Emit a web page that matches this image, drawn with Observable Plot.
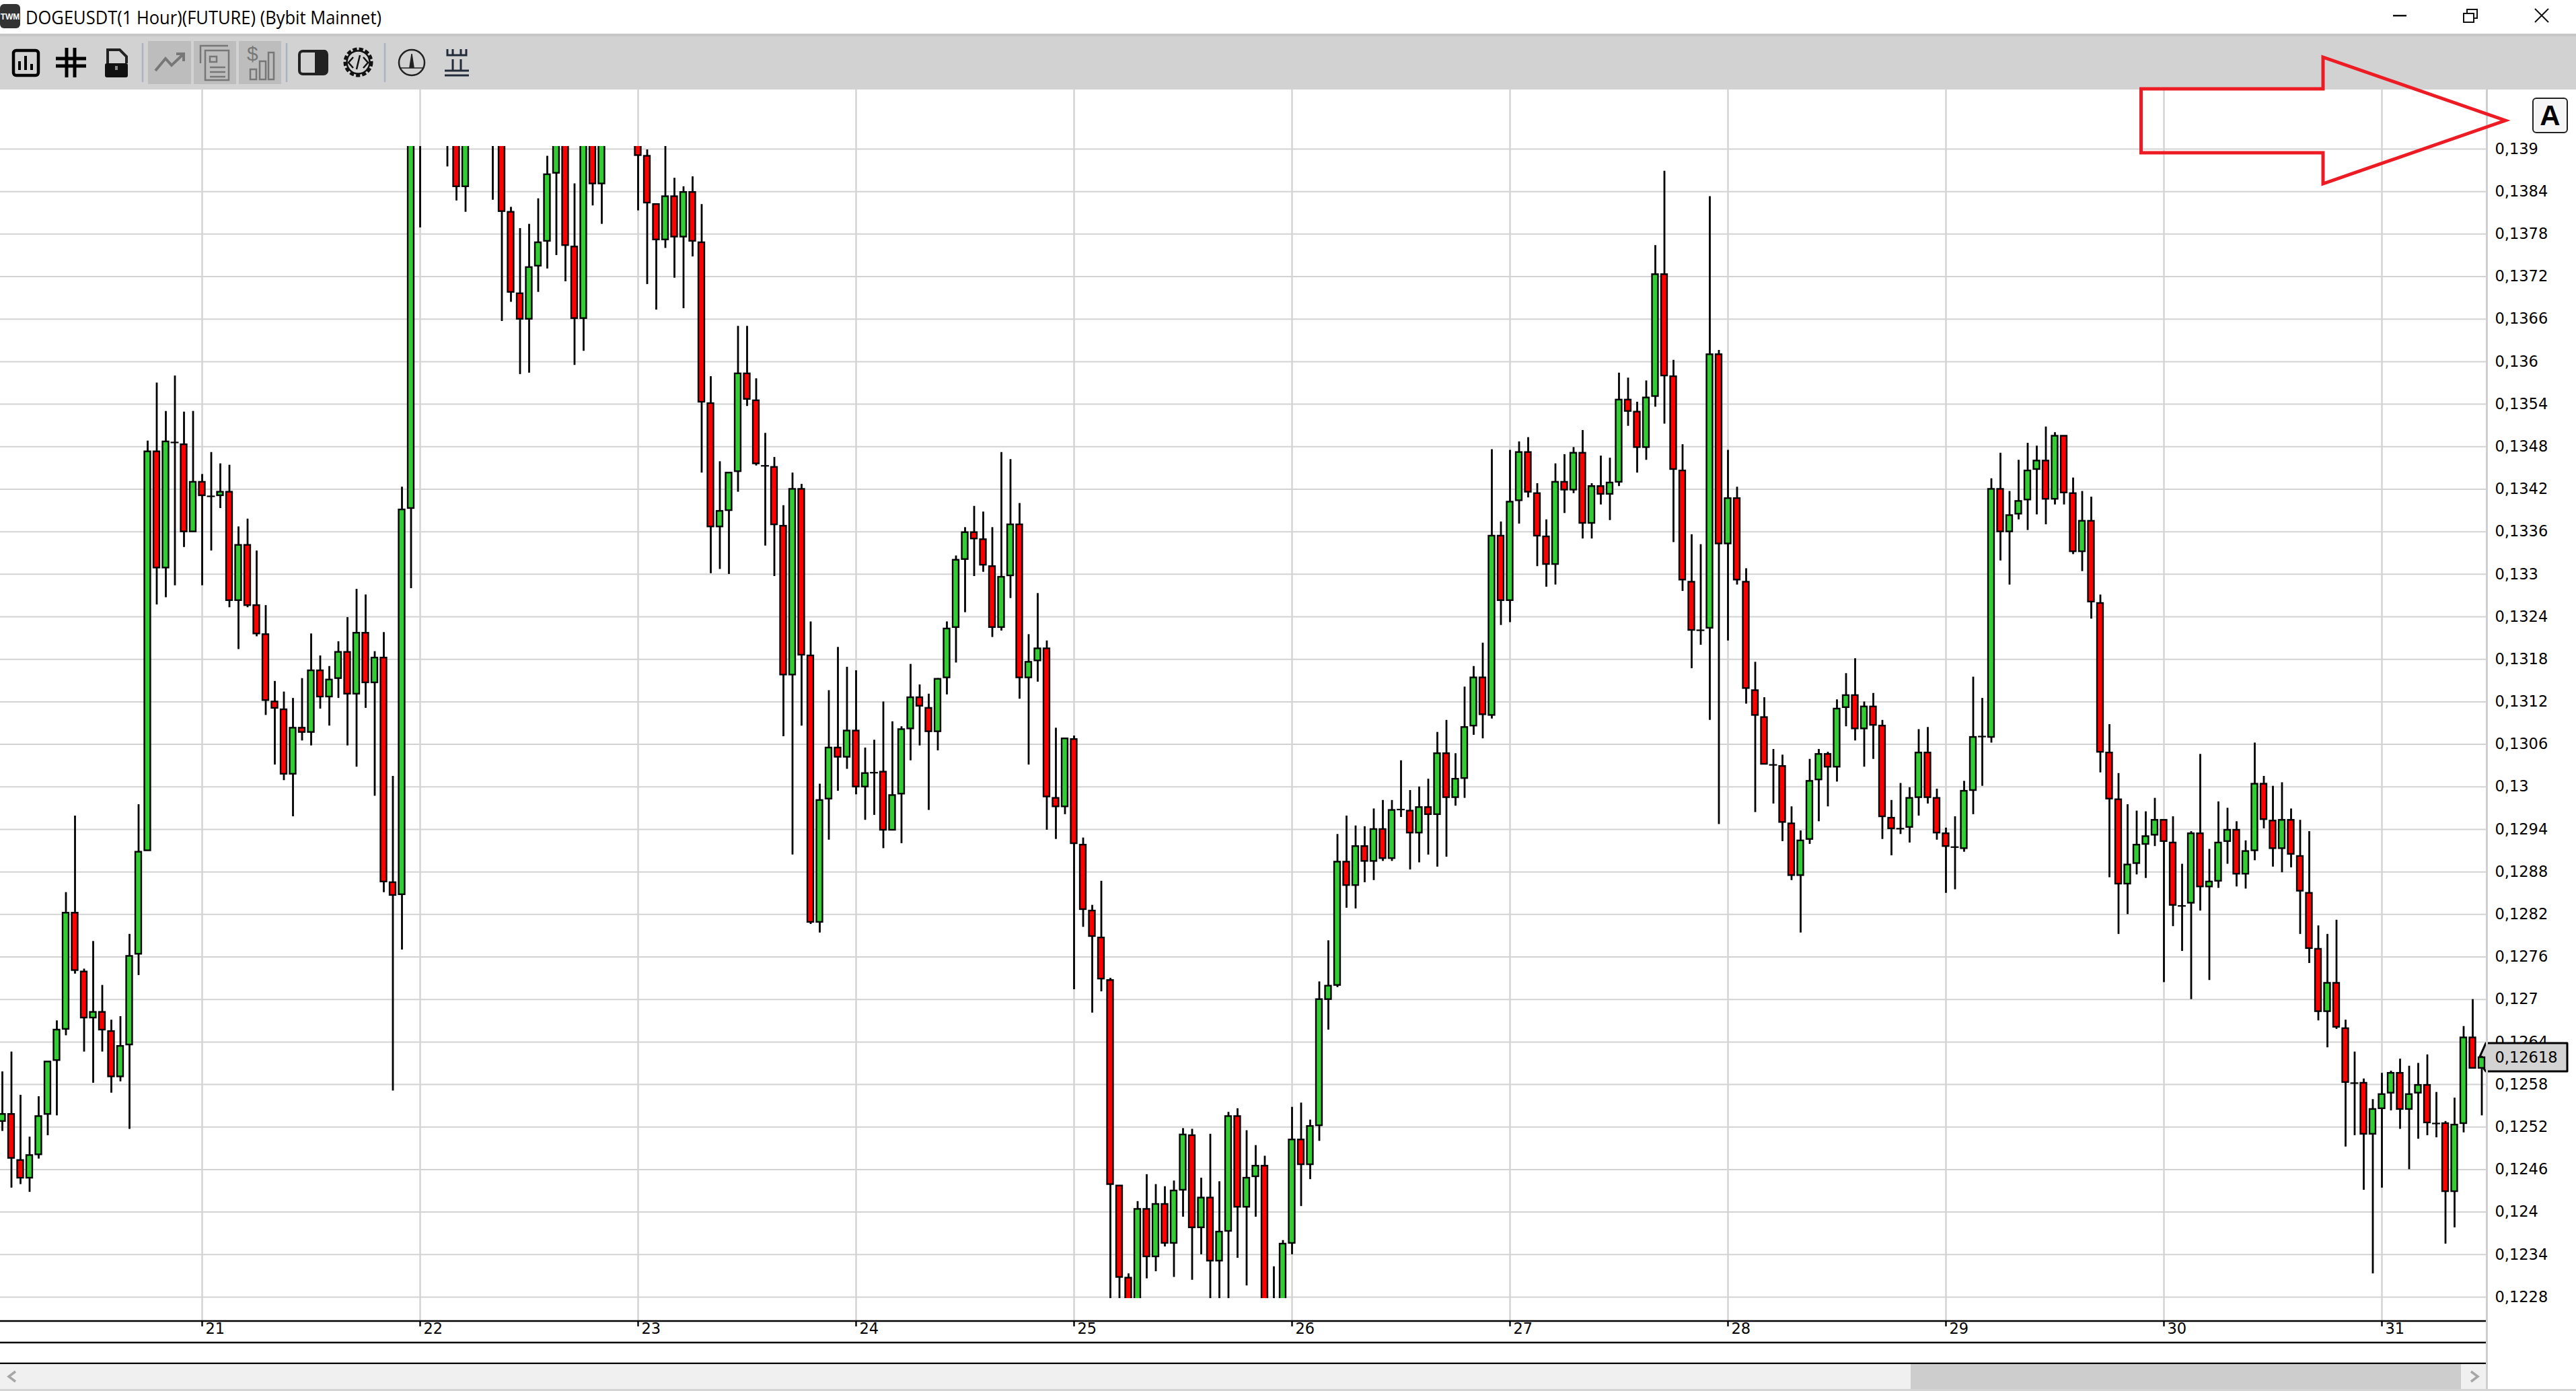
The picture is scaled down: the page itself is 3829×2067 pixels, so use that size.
<!DOCTYPE html>
<html>
<head>
<meta charset="utf-8">
<script src="https://cdn.jsdelivr.net/npm/d3@7"></script>
<script src="https://cdn.jsdelivr.net/npm/@observablehq/plot@0.6"></script>
<style>
html,body{margin:0;padding:0;width:3829px;height:2067px;overflow:hidden;background:#fff}
#chart{position:absolute;left:0;top:0}
#chrome{position:absolute;left:0;top:0;pointer-events:none}
</style>
</head>
<body>
<div id="chart"></div>
<svg id="chrome" width="3829" height="2067" viewBox="0 0 3829 2067" xmlns="http://www.w3.org/2000/svg">
  <defs><clipPath id="candleClip"><rect x="0" y="217" width="3695" height="1712"/></clipPath></defs>
  <!-- title bar -->
  <rect x="0" y="6" width="30" height="36" rx="6" fill="#333"/>
  <text x="15" y="29" text-anchor="middle" font-family="Liberation Sans" font-weight="700" font-size="12" fill="#fff">TWM</text>
  <text x="38" y="36" font-family="Open Sans" font-size="27" fill="#000" textLength="529" lengthAdjust="spacingAndGlyphs">DOGEUSDT(1 Hour)(FUTURE) (Bybit Mainnet)</text>
  <rect x="3557" y="22" width="20" height="2.5" fill="#111"/>
  <path d="M3662 20h15v13h-15zM3667 20v-6h15v13h-5" fill="none" stroke="#111" stroke-width="2"/>
  <path d="M3768 13l20 20M3788 13l-20 20" fill="none" stroke="#111" stroke-width="2"/>
  <!-- toolbar -->
  <rect x="0" y="50" width="3829" height="83" fill="#d2d2d2"/>
  <rect x="0" y="50" width="3829" height="4" fill="#c6c6c6"/>
  <rect x="220" y="61" width="64" height="64" fill="#bdbdbd"/>
  <rect x="288" y="61" width="63" height="64" fill="#bdbdbd"/>
  <rect x="355" y="61" width="63" height="64" fill="#bdbdbd"/>
  <path d="M212 64v58M426 64v58M572 64v58" stroke="#a9b3c2" stroke-width="2.5"/>
  <rect x="20" y="75" width="37" height="37" rx="4" fill="none" stroke="#000" stroke-width="4.5"/>
  <path d="M29 104v-13M38 104v-21M47 104v-9" stroke="#000" stroke-width="4"/>
  <path d="M99 71v44M111 71v44M83 87h45M83 98h45" stroke="#000" stroke-width="5"/>
  <path d="M160 94V74h18l10 10v10" fill="none" stroke="#222" stroke-width="4"/>
  <rect x="156" y="94" width="34" height="21" rx="3" fill="#111"/>
  <rect x="171" y="98" width="4" height="6" fill="#888"/>
  <path d="M231 105l15-18 9 10 17-16M262 80h11v11" fill="none" stroke="#777" stroke-width="4"/>
  <path d="M298 94V68h41M305 119V75h35v44z" fill="none" stroke="#777" stroke-width="2.5"/>
  <path d="M312 84h10v8h-10zM312 100h23M312 107h23M312 114h23" fill="none" stroke="#777" stroke-width="2.5"/>
  <text x="367" y="90" font-family="Liberation Sans" font-size="30" fill="#777">$</text>
  <path d="M372 103h9v15h-9zM386 91h9v27h-9zM399 78h8v40h-8z" fill="none" stroke="#777" stroke-width="2.5"/>
  <rect x="445" y="76" width="41" height="34" rx="5" fill="#fff" fill-opacity="0" stroke="#222" stroke-width="4"/>
  <path d="M468 74h14a5 5 0 0 1 5 5v27a5 5 0 0 1-5 5h-14z" fill="#222"/>
  <circle cx="532.5" cy="92.5" r="19" fill="none" stroke="#111" stroke-width="6" stroke-dasharray="6 3"/>
  <circle cx="532.5" cy="92.5" r="17" fill="#d2d2d2" stroke="#111" stroke-width="2.5"/>
  <path d="M525 85l-7 8 7 8M540 85l7 8-7 8M535 82l-5 21" fill="none" stroke="#111" stroke-width="2.5"/>
  <circle cx="612" cy="93" r="19" fill="none" stroke="#222" stroke-width="2.5"/>
  <path d="M612 80l-3 20h6zM594 101h36" fill="#222" stroke="#222" stroke-width="1.5"/>
  <path d="M665 73v9h8v-9M673 82h12v-9M685 82h8v-9M673 88v16M685 88v16M661 105h36v0M661 112h36" fill="none" stroke="#222b3a" stroke-width="3"/>
  <!-- A button -->
  <rect x="3765" y="146" width="51" height="51" rx="5" fill="#f5f5f5" stroke="#222" stroke-width="2"/>
  <text x="3790.5" y="186" text-anchor="middle" font-family="Liberation Sans" font-weight="700" font-size="42" fill="#000">A</text>
  <!-- bottom chrome -->
  <rect x="3695" y="133" width="3" height="1934" fill="#cfcfcf"/>
  <path d="M0 1963H3695M0 1995H3695M0 2026H3695" stroke="#000" stroke-width="2.5"/>
  <rect x="0" y="2027" width="3695" height="37" fill="#f0f0f0"/>
  <rect x="2840" y="2027" width="818" height="37" fill="#cdcdcd"/>
  <path d="M23 2038l-10 7.500 10 7.500M3673 2038l10 7.500-10 7.500" fill="none" stroke="#a6a6a6" stroke-width="3.500"/>
  <rect x="0" y="2064" width="3829" height="3" fill="#d4d4d4"/>
  <!-- callout arrow -->
  <path d="M3182.5 132H3453V85L3724 179 3453 273V227H3182.5Z" fill="none" stroke="#ed1c24" stroke-width="5" stroke-linejoin="miter"/>
</svg>
<script>
// Chart values, in units of 0.00001 price. Hour 0 is the start of day 21; the first candle is hour -22.
const firstHour = -22;
const highs = [
12598,12626,12565,12506,12563,12612,12670,12851,12959,12743,12782,12720,12671,12676,12792,12975,13488,13570,13530,13580,13529,13530,
13441,13472,13456,13454,13367,13378,13333,13256,13149,13134,13125,13153,13216,13185,13170,13205,13239,13279,13271,13191,13218,13015,13423,14020,
14020,null,null,14000,13980,13970,null,null,13980,13970,13818,13788,13794,13830,13890,13950,13970,13851,13970,13970,13970,null,null,null,
13950,13899,13822,13930,13859,13847,13861,13822,13579,13459,13443,13650,13650,13576,13499,13465,13397,13443,13427,13233,13004,13136,13197,13169,
13164,13055,13066,13120,13092,13085,13173,13144,13131,13153,13233,13326,13366,13396,13388,13366,13472,13462,13400,13215,13273,13206,13083,13069,
13072,12928,12833,12867,12730,12437,12313,12415,12453,12439,12436,12444,12518,12517,12448,12510,12443,12541,12546,12515,12494,12479,12323,12360,
12548,12554,12530,12725,12783,12933,12959,12945,12944,12969,12981,12981,13037,12995,13000,13011,13077,13094,13047,13141,13170,13203,13476,13374,
13475,13487,13493,13428,13377,13456,13469,13479,13503,13428,13467,13464,13584,13577,13543,13573,13764,13869,13602,13483,13356,13342,13833,13616,
13475,13423,13308,13176,13126,13053,13045,12972,12938,13039,13053,13049,13123,13160,13181,13120,13132,13094,12981,13005,12999,13081,13084,12997,
12942,12958,13008,13155,13125,13435,13471,13417,13461,13485,13481,13508,13500,13495,13436,13417,13409,13271,13088,13019,12975,12966,12965,12984,
12953,12958,12891,12937,13046,12912,12979,12970,12951,12924,13062,13015,13001,13006,12969,12953,12937,12804,12792,12812,12671,12626,12588,12559,
12596,12599,12616,12606,12610,12622,12569,12528,12561,12662,12700,12620];
const lows = [
12514,12434,12439,12428,12475,12508,12536,12649,12736,12626,12582,12626,12568,12584,12517,12734,12910,13257,13267,13284,13338,13360,
13284,13333,13393,13253,13194,13253,13212,13101,13031,13009,12958,13065,13058,13110,13086,13125,13058,13028,13111,12987,12851,12571,12770,13280,
13789,null,null,13875,13827,13811,null,null,13828,13657,13684,13582,13584,13698,13731,13750,13713,13595,13615,13820,13794,null,null,null,
13813,13709,13673,13760,13718,13675,13748,13443,13301,13307,13300,13416,13537,13453,13340,13297,13071,12904,13086,12806,12794,12925,12994,13025,
12989,12953,12960,12913,12939,12920,13037,13058,12967,13051,13130,13175,13246,13297,13303,13211,13220,13266,13124,13031,13148,12939,12926,12961,
12714,12802,12681,12711,12270,12270,12270,12270,12306,12316,12351,12308,12393,12304,12340,12270,12270,12270,12335,12296,12393,12270,12270,12270,
12340,12408,12446,12500,12657,12717,12829,12828,12865,12868,12895,12895,12957,12883,12893,12904,12887,12901,12973,12984,13073,13068,13096,13228,
13232,13371,13408,13311,13282,13285,13386,13414,13350,13350,13398,13376,13424,13509,13443,13461,13536,13512,13345,13276,13167,13200,13094,12947,
13206,13285,13117,12964,13032,12976,12923,12868,12794,12919,12951,12972,13007,13085,13065,13028,13039,12926,12903,12933,12921,12959,12976,12925,
12850,12855,12908,12961,13001,13062,13319,13285,13377,13362,13384,13370,13398,13398,13328,13304,13237,13020,12872,12792,12820,12876,12871,12916,
12724,12803,12768,12700,12825,12727,12857,12891,12859,12856,12896,12941,12887,12879,12886,12792,12751,12670,12632,12658,12492,12508,12431,12313,
12434,12543,12517,12460,12503,12508,12505,12355,12378,12512,12603,12536];
const opens = [
12528,12538,12473,12448,12481,12538,12614,12658,12822,12739,12674,12682,12655,12591,12636,12764,12910,13473,13309,13486,13483,13360,
13430,13410,13411,13416,13263,13341,13256,13215,13120,13109,13018,13083,13077,13164,13127,13153,13190,13131,13217,13147,13182,12865,12848,13393,
13960,null,null,13960,13950,13847,null,null,13950,13950,13811,13696,13660,13735,13770,13866,13950,13762,13661,13950,13851,null,null,null,
13930,13890,13822,13772,13833,13776,13839,13768,13541,13367,13390,13445,13583,13545,13453,13451,13368,13158,13420,13185,12809,12983,13055,13042,
13079,13000,13020,13021,12939,12990,13082,13126,13111,13078,13154,13225,13321,13359,13349,13311,13225,13298,13370,13154,13178,13195,12984,12972,
13067,12918,12825,12787,12727,12437,12307,12260,12404,12337,12411,12356,12431,12508,12378,12420,12331,12373,12535,12407,12450,12465,12262,12265,
12356,12502,12467,12522,12700,12720,12894,12861,12916,12895,12940,12899,12968,12966,12935,12971,12961,13047,12985,13012,13086,13154,13101,13354,
13263,13404,13472,13414,13353,13314,13430,13419,13471,13372,13424,13413,13430,13546,13529,13479,13551,13723,13579,13446,13289,13221,13224,13610,
13343,13407,13289,13136,13098,13031,13029,12948,12875,12926,13010,13046,13028,13112,13129,13082,13113,13086,12956,12941,12943,12985,13048,12984,
12934,12915,12913,12995,13071,13070,13420,13360,13385,13405,13448,13460,13406,13495,13414,13332,13375,13259,13048,12982,12863,12892,12919,12932,
12953,12921,12832,12836,12934,12859,12867,12923,12939,12877,12910,13004,12952,12913,12953,12902,12850,12771,12683,12723,12659,12582,12582,12510,
12546,12568,12596,12545,12568,12579,12525,12525,12429,12525,12646,12603];
const closes = [
12538,12476,12448,12480,12535,12612,12657,12822,12741,12674,12682,12657,12591,12634,12761,12908,13473,13309,13487,13486,13360,13430,
13411,13410,13416,13263,13341,13256,13216,13122,13111,13018,13083,13077,13164,13127,13151,13190,13131,13217,13147,13182,12866,12847,13391,14000,
14000,null,null,13980,13847,13950,null,null,13920,13812,13698,13660,13733,13768,13864,13930,13764,13661,13950,13851,13950,null,null,null,
13891,13824,13772,13833,13776,13839,13770,13543,13367,13389,13443,13583,13547,13456,13453,13370,13158,13420,13186,12809,12981,13055,13042,13079,
13000,13019,13020,12939,12988,13081,13126,13114,13078,13152,13223,13320,13359,13350,13313,13225,13296,13370,13154,13176,13195,12986,12972,13068,
12920,12827,12789,12729,12439,12308,12260,12404,12337,12411,12356,12430,12509,12378,12420,12331,12372,12535,12407,12448,12465,12260,12262,12355,
12502,12467,12521,12700,12719,12894,12861,12916,12895,12940,12899,12967,12968,12935,12971,12961,13047,12985,13011,13084,13154,13102,13354,13263,
13402,13472,13416,13354,13314,13430,13419,13471,13372,13424,13413,13429,13546,13530,13479,13549,13723,13580,13448,13292,13221,13221,13610,13343,
13407,13292,13139,13101,13032,13031,12950,12875,12924,13008,13046,13028,13110,13129,13082,13113,13087,12958,12941,12941,12984,13048,12985,12935,
12916,12915,12994,13070,13071,13420,13360,13383,13403,13446,13460,13406,13495,13415,13332,13375,13261,13049,12983,12863,12890,12918,12930,12953,
12923,12833,12832,12934,12859,12866,12921,12939,12877,12909,13004,12954,12913,12953,12905,12853,12772,12683,12723,12661,12583,12582,12510,12545,
12566,12596,12545,12566,12579,12526,12525,12429,12523,12646,12603,12618];
const yTicks = [0.139,0.1384,0.1378,0.1372,0.1366,0.136,0.1354,0.1348,0.1342,0.1336,0.133,0.1324,0.1318,0.1312,0.1306,0.13,0.1294,0.1288,0.1282,0.1276,0.127,0.1264,0.1258,0.1252,0.1246,0.124,0.1234,0.1228];
const dayHours = [0,24,48,72,96,120,144,168,192,216,240];
const dayLabels = ["21","22","23","24","25","26","27","28","29","30","31"];
const lastPrice = 0.12618;

const UP = "#32cd32", DOWN = "#ff0000", GRID = "#d3d3d3";
const FONT = 22.5;
const floorPrice = 0.122781;   // candles end just below the 0,1228 line
const gridTopPrice = 0.139836; // vertical grid runs up to the toolbar
const yDomain = [0.122458, 0.139038];
const xDomain = [-300/13.5, 3395/13.5];
const comma = d => String(d).replace(".", ",");

const candles = opens.map((o, i) => o == null ? null : ({
  h: firstHour + i, open: o/1e5, close: closes[i]/1e5, high: highs[i]/1e5, low: lows[i]/1e5
})).filter(Boolean);
const bodies = candles.filter(d => d.open !== d.close);
const dojis = candles.filter(d => d.open === d.close && d.open > floorPrice);

const priceTag = (index, {y}, values, {width, marginRight}) => {
  const py = y(lastPrice), r = width - marginRight;
  return d3.create("svg:path")
    .attr("d", `M${r-9} ${py-1}L${r} ${py-21}H${r+121}V${py+21}H${r}L${r-7} ${py+11}Z`)
    .attr("fill", "#d3d3d3").attr("stroke", "#000").attr("stroke-width", 3).attr("stroke-linejoin", "round")
    .node();
};

const plot = Plot.plot({
  width: 3829, height: 2067,
  marginLeft: 0, marginRight: 134, marginTop: 217, marginBottom: 104,
  style: {background: "transparent", fontFamily: "DejaVu Sans", fontSize: FONT + "px", color: "#000"},
  x: {domain: xDomain, axis: null},
  y: {domain: yDomain, axis: null},
  color: {type: "identity"},
  marks: [
    Plot.ruleY(yTicks, {stroke: GRID, strokeWidth: 2}),
    Plot.ruleX(dayHours, {y1: gridTopPrice, y2: yDomain[0], stroke: GRID, strokeWidth: 2.4}),
    Plot.axisY(yTicks, {anchor: "right", tickSize: 0, tickPadding: 13, tickFormat: comma, label: null, fontSize: FONT, fill: "#000"}),
    priceTag,
    Plot.axisY([lastPrice], {anchor: "right", tickSize: 0, tickPadding: 13, tickFormat: comma, label: null, fontSize: FONT, fill: "#000"}),
    Plot.axisX(dayHours, {anchor: "bottom", tickSize: 8, fill: "none", stroke: "#000", strokeWidth: 2.4, label: null}),
    Plot.axisX(dayHours, {anchor: "bottom", tickSize: 0, tickPadding: 3, textAnchor: "start", dx: 5, fontSize: FONT, fill: "#000", label: null,
      tickFormat: h => dayLabels[dayHours.indexOf(h)]}),
    Plot.ruleX(candles, {x: "h", y1: "high", y2: d => Math.max(d.low, floorPrice), stroke: "#000", strokeWidth: 2.8, clip: true}),
    Plot.ruleY(dojis, {y: "open", x1: d => d.h - 0.44, x2: d => d.h + 0.44, stroke: "#000", strokeWidth: 2.2, clip: true}),
    Plot.rect(bodies, {x1: d => d.h - 0.33, x2: d => d.h + 0.33, y1: "open", y2: "close",
      fill: d => d.close > d.open ? UP : DOWN, stroke: "#000", strokeWidth: 2.4})
  ]
});
d3.select(plot).selectAll('g[aria-label="rect"]').attr("clip-path", "url(#candleClip)");
document.getElementById("chart").append(plot);
</script>
</body>
</html>
